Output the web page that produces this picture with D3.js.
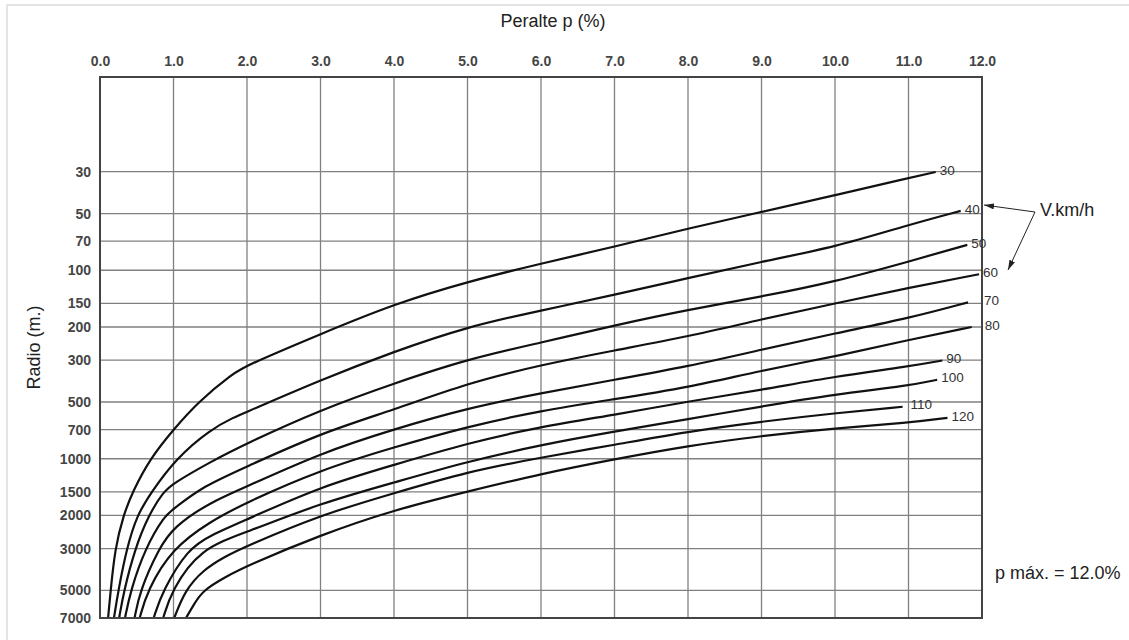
<!DOCTYPE html>
<html>
<head>
<meta charset="utf-8">
<script src="https://cdn.jsdelivr.net/npm/d3@7"></script>
<style>
  body { margin: 0; background: #fff; }
  svg text { font-family: "Liberation Sans", Arial, sans-serif; }
</style>
</head>
<body>
<div id="chart"></div>
<script>
// tick values
const pTicks = [0, 1, 2, 3, 4, 5, 6, 7, 8, 9, 10, 11, 12]
const radioTicks = [30, 50, 70, 100, 150, 200, 300, 500, 700, 1000, 1500, 2000, 3000, 5000, 7000]

// design speed of each curve (km/h)
const speeds = [30, 40, 50, 60, 70, 80, 90, 100, 110, 120]

// [peralte %, radio m]
const curve30 = [[0.11, 7000], [0.145, 5000], [0.204, 3000], [0.317, 2000], [0.443, 1500], [0.68, 1000], [1.0, 700], [1.335, 500], [1.81, 352], [2.01, 318], [3.0, 218], [4.0, 151], [5.0, 115], [6.0, 92], [7.0, 75], [8.0, 60], [9.0, 49], [10.0, 40], [11.0, 32.4], [11.37, 30.1]]
const curve40 = [[0.19, 7000], [0.249, 5000], [0.363, 3000], [0.5, 2000], [0.7, 1500], [1.03, 1000], [1.5, 700], [1.83, 600], [2.01, 562], [3.0, 382], [4.0, 270], [5.0, 199], [6.0, 163.5], [7.0, 135], [8.0, 110], [9.0, 90], [10.0, 75.4], [11.0, 57.4], [11.71, 48.4]]
const curve50 = [[0.26, 7000], [0.327, 5000], [0.476, 3000], [0.66, 2000], [0.86, 1500], [1.0, 1350], [1.5, 1040], [2.0, 827], [3.0, 550], [4.0, 398], [5.0, 296], [6.0, 242], [7.0, 196], [8.0, 162], [9.0, 138], [10.0, 115], [11.0, 90], [11.8, 73.3]]
const curve60 = [[0.34, 7000], [0.417, 5000], [0.612, 3000], [0.88, 2000], [1.0, 1850], [1.4, 1400], [2.0, 1100], [3.0, 732], [4.0, 550], [5.0, 397], [6.0, 318], [7.0, 266], [8.0, 225], [9.0, 182], [10.0, 150], [11.0, 124], [11.96, 105]]
const curve70 = [[0.47, 7000], [0.544, 5000], [0.8, 3000], [1.0, 2300], [1.5, 1700], [2.0, 1405], [3.0, 934], [4.0, 697], [5.0, 539], [6.0, 449], [7.0, 381], [8.0, 324], [9.0, 264], [10.0, 216], [11.0, 180], [11.81, 148]]
const curve80 = [[0.54, 7000], [0.644, 5000], [0.98, 3000], [1.5, 2150], [2.0, 1700], [3.0, 1146], [4.0, 869], [5.0, 675], [6.0, 555], [7.0, 483], [8.0, 419], [9.0, 340], [10.0, 287], [11.0, 234], [11.86, 200]]
const curve90 = [[0.73, 7000], [0.853, 5000], [1.2, 3000], [1.5, 2550], [2.0, 2100], [3.0, 1405], [4.0, 1078], [5.0, 827], [6.0, 675], [7.0, 585], [8.0, 497], [9.0, 431], [10.0, 366], [11.0, 324], [11.46, 301]]
const curve100 = [[0.86, 7000], [0.975, 5000], [1.36, 3000], [2.0, 2450], [3.0, 1722], [4.0, 1338], [5.0, 1035], [6.0, 844], [7.0, 717], [8.0, 617], [9.0, 528], [10.0, 455], [11.0, 410], [11.39, 381]]
const curve110 = [[1.01, 7000], [1.156, 5000], [1.4, 3900], [1.7, 3300], [2.0, 2900], [3.0, 1986], [4.0, 1524], [5.0, 1170], [6.0, 985], [7.0, 844], [8.0, 717], [9.0, 635], [10.0, 573], [10.92, 530]]
const curve120 = [[1.17, 7000], [1.28, 5900], [1.4, 5000], [1.7, 4250], [2.0, 3700], [3.0, 2536], [4.0, 1868], [5.0, 1493], [6.0, 1203], [7.0, 1006], [8.0, 854], [9.0, 756], [10.0, 689], [11.0, 645], [11.53, 607]]

const curves = [curve30, curve40, curve50, curve60, curve70, curve80, curve90, curve100, curve110, curve120]

// a few labels sit further right, past the frame
const labelShift = { 70: 12, 80: 9, 110: 4 }

const W = 1129
const H = 640
const plotLeft = 100, plotRight = 982, plotTop = 77, plotBottom = 618

const svg = d3.select('#chart')
  .append('svg')
  .attr('width', W)
  .attr('height', H)

// faint page border (top and left only)
svg.append('path')
  .attr('d', `M7,${H}V5H${W}`)
  .attr('fill', 'none')
  .attr('stroke', '#e3e3e3')
  .attr('stroke-width', 2)

const x = d3.scaleLinear().domain([0, 12]).range([plotLeft, plotRight])
const y = d3.scaleLog().domain([9.43, 7000]).range([plotTop, plotBottom])

// grid
svg.append('g')
  .selectAll('line')
  .data(pTicks.slice(1, -1))
  .join('line')
  .attr('x1', (d) => x(d)).attr('x2', (d) => x(d))
  .attr('y1', plotTop).attr('y2', plotBottom)
  .attr('stroke', '#808080')
  .attr('stroke-width', 1.3)

svg.append('g')
  .selectAll('line')
  .data(radioTicks.filter((d) => d < 7000))
  .join('line')
  .attr('x1', plotLeft).attr('x2', plotRight)
  .attr('y1', (d) => y(d)).attr('y2', (d) => y(d))
  .attr('stroke', '#808080')
  .attr('stroke-width', 1.3)

// axes (labels only)
const xAxis = svg.append('g')
  .attr('transform', `translate(0,${plotTop})`)
  .call(d3.axisTop(x).tickValues(pTicks).tickFormat(d3.format('.1f')).tickSize(0).tickPadding(11))
const yAxis = svg.append('g')
  .attr('transform', `translate(${plotLeft},0)`)
  .call(d3.axisLeft(y).tickValues(radioTicks).tickFormat(d3.format('d')).tickSize(0).tickPadding(9))

;[xAxis, yAxis].forEach((g) => {
  g.select('.domain').remove()
  g.selectAll('text')
    .style('font-family', '"Liberation Sans", Arial, sans-serif')
    .style('font-size', '14px')
    .style('font-weight', 'bold')
    .attr('fill', '#454545')
})

// curves, smoothed through the read points
const line = d3.line()
  .x((d) => x(d[0]))
  .y((d) => y(d[1]))
  .curve(d3.curveBasis)

svg.append('g')
  .selectAll('path')
  .data(curves)
  .join('path')
  .attr('d', line)
  .attr('fill', 'none')
  .attr('stroke', '#111')
  .attr('stroke-width', 2.2)

// frame
svg.append('rect')
  .attr('x', plotLeft).attr('y', plotTop)
  .attr('width', plotRight - plotLeft).attr('height', plotBottom - plotTop)
  .attr('fill', 'none')
  .attr('stroke', '#444')
  .attr('stroke-width', 2)

// speed labels at the end of each curve
svg.append('g')
  .selectAll('text')
  .data(speeds)
  .join('text')
  .attr('x', (d, i) => x(curves[i][curves[i].length - 1][0]) + 4 + (labelShift[d] || 0))
  .attr('y', (d, i) => y(curves[i][curves[i].length - 1][1]) - 2)
  .attr('dy', '0.35em')
  .attr('font-size', 13.5)
  .attr('fill', '#333')
  .text((d) => d)

// titles
svg.append('text')
  .attr('x', (plotLeft + plotRight) / 2 + 12)
  .attr('y', 27)
  .attr('text-anchor', 'middle')
  .attr('font-size', 18)
  .attr('fill', '#222')
  .text('Peralte p (%)')

svg.append('text')
  .attr('transform', `translate(40,${(plotTop + plotBottom) / 2}) rotate(-90)`)
  .attr('text-anchor', 'middle')
  .attr('font-size', 18)
  .attr('fill', '#222')
  .text('Radio (m.)')

svg.append('text')
  .attr('x', 1040)
  .attr('y', 216)
  .attr('font-size', 18)
  .attr('fill', '#222')
  .text('V.km/h')

svg.append('text')
  .attr('x', 995)
  .attr('y', 579)
  .attr('font-size', 18)
  .attr('fill', '#222')
  .text('p máx. = 12.0%')

// arrows from the V.km/h note
svg.append('defs').append('marker')
  .attr('id', 'arrow')
  .attr('viewBox', '0 0 10 6')
  .attr('refX', 10).attr('refY', 3)
  .attr('markerWidth', 10).attr('markerHeight', 6)
  .attr('markerUnits', 'userSpaceOnUse')
  .attr('orient', 'auto')
  .append('path')
  .attr('d', 'M0,0L10,3L0,6Z')
  .attr('fill', '#222')

const arrowFrom = [1035, 212]
const arrowTips = [[984, 205], [1008, 270]]
svg.append('g')
  .selectAll('line')
  .data(arrowTips)
  .join('line')
  .attr('x1', arrowFrom[0]).attr('y1', arrowFrom[1])
  .attr('x2', (d) => d[0]).attr('y2', (d) => d[1])
  .attr('stroke', '#222')
  .attr('stroke-width', 1)
  .attr('marker-end', 'url(#arrow)')
</script>
</body>
</html>
